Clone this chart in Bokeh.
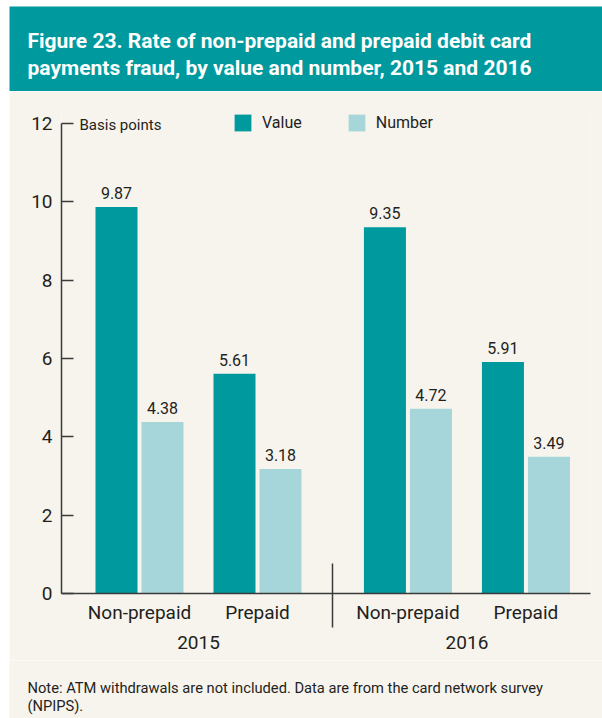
from bokeh.plotting import figure
from bokeh.models import (ColumnDataSource, Range1d, LinearAxis, FixedTicker, Label,
                          LabelSet, Legend, LegendItem, Spacer)
from bokeh.core.properties import value
from bokeh.layouts import column, row
from bokeh.embed import file_html
from bokeh.resources import INLINE

# ---------------- data ----------------
title_lines = ["Figure 23. Rate of non-prepaid and prepaid debit card",
               "payments fraud, by value and number, 2015 and 2016"]
years = ["2015", "2016"]
categories = ["Non-prepaid", "Prepaid"]
series_names = ["Value", "Number"]
value_rates = [9.87, 5.61, 9.35, 5.91]
number_rates = [4.38, 3.18, 4.72, 3.49]
y_ticks = [0, 2, 4, 6, 8, 10, 12]
y_unit_label = "Basis points"
note_lines = ["Note: ATM withdrawals are not included. Data are from the card network survey",
              "(NPIPS)."]

# ---------------- style ----------------
TEAL = "#00999E"
LIGHT = "#A7D6DA"
BG = "#F7F4EE"
INK = "#231F20"
AXIS = "#3A3A3A"
FONT = "Roboto"

YEAR_GAP = 0.275
DODGE = 0.195
BAR_W = 0.356

ncat = len(categories)
centers = []
for i, _y in enumerate(years):
    for j, _c in enumerate(categories):
        centers.append(i * (ncat + YEAR_GAP) + j)
year_centers = [sum(centers[i * ncat:(i + 1) * ncat]) / ncat for i in range(len(years))]
separators = [(centers[i * ncat - 1] + centers[i * ncat]) / 2 for i in range(1, len(years))]

src = ColumnDataSource(dict(
    xv=[c - DODGE for c in centers],
    xn=[c + DODGE for c in centers],
    value=value_rates,
    number=number_rates,
    vlab=[f"{v:.2f}" for v in value_rates],
    nlab=[f"{v:.2f}" for v in number_rates],
))


def blank(h, top=0, fill=BG, border=BG):
    f = figure(width=593, height=h, x_range=Range1d(0, 1), y_range=Range1d(0, 1),
               output_backend="svg", toolbar_location=None,
               x_axis_type=None, y_axis_type=None,
               min_border_left=0, min_border_right=0,
               min_border_top=top, min_border_bottom=0,
               background_fill_color=fill, border_fill_color=border,
               outline_line_color=None)
    f.frame_align = False
    return f


# ---------------- header ----------------
header = blank(91, top=6, fill=TEAL, border="white")
for line, yy in zip(title_lines, (51, 24)):
    header.add_layout(Label(x=18, y=yy, x_units="screen", y_units="screen",
                            text=line, text_font=FONT, text_font_size="21px",
                            text_font_style="bold", text_color="white",
                            text_baseline="alphabetic"))

# ---------------- chart ----------------
p = figure(width=593, height=569,
           x_range=Range1d(-0.661, 3.822), y_range=Range1d(0, 12.46),
           output_backend="svg", toolbar_location=None,
           x_axis_type=None, y_axis_type=None,
           min_border_left=52, min_border_right=12,
           min_border_top=14, min_border_bottom=67,
           background_fill_color=BG, border_fill_color=BG,
           outline_line_color=None)
p.frame_align = False

yaxis = LinearAxis(ticker=FixedTicker(ticks=y_ticks), bounds=(y_ticks[0], y_ticks[-1]),
                   axis_line_color=AXIS, axis_line_width=1.5,
                   major_tick_line_color=AXIS, major_tick_line_width=1.5,
                   major_tick_in=12, major_tick_out=0,
                   minor_tick_line_color=None,
                   major_label_standoff=9,
                   major_label_text_font=FONT,
                   major_label_text_font_size="19px",
                   major_label_text_color=INK)
p.add_layout(yaxis, "left")

xaxis = LinearAxis(ticker=FixedTicker(ticks=centers, minor_ticks=separators),
                   major_label_overrides={c: categories[k % ncat] for k, c in enumerate(centers)},
                   axis_line_color=AXIS, axis_line_width=1.5,
                   major_tick_line_color=None, major_tick_in=0, major_tick_out=0,
                   minor_tick_line_color=AXIS, minor_tick_line_width=1.5,
                   minor_tick_in=30, minor_tick_out=34,
                   major_label_standoff=-27,
                   major_label_text_font=FONT,
                   major_label_text_font_size="19px",
                   major_label_text_color=INK)
p.add_layout(xaxis, "below")

yraxis = LinearAxis(ticker=FixedTicker(ticks=year_centers),
                    major_label_overrides={c: years[k] for k, c in enumerate(year_centers)},
                    axis_line_color=None,
                    major_tick_line_color=None, major_tick_in=0, major_tick_out=0,
                    minor_tick_line_color=None,
                    major_label_standoff=9,
                    major_label_text_font=FONT,
                    major_label_text_font_size="19px",
                    major_label_text_color=INK)
p.add_layout(yraxis, "below")

rv = p.vbar(x="xv", top="value", width=BAR_W, source=src,
            fill_color=TEAL, line_color=None)
rn = p.vbar(x="xn", top="number", width=BAR_W, source=src,
            fill_color=LIGHT, line_color=None)

for xcol, ycol, tcol in (("xv", "value", "vlab"), ("xn", "number", "nlab")):
    p.add_layout(LabelSet(x=xcol, y=ycol, text=tcol, source=src,
                          y_offset=8, text_align="center", text_baseline="alphabetic",
                          text_font=value(FONT), text_font_size="16px", text_color=INK))

legend = Legend(items=[LegendItem(label=series_names[0], renderers=[rv]),
                       LegendItem(label=series_names[1], renderers=[rn])],
                location=(171, 460), orientation="horizontal",
                glyph_width=21, glyph_height=21, label_height=21,
                label_standoff=9, spacing=44, padding=0, margin=0,
                border_line_color=None, background_fill_alpha=0,
                label_text_font=FONT, label_text_font_size="16px",
                label_text_color=INK, label_text_baseline="middle")
p.add_layout(legend)

p.add_layout(Label(x=18, y=469, x_units="screen", y_units="screen",
                   text=y_unit_label, text_font=FONT, text_font_size="15px",
                   text_color=INK, text_baseline="alphabetic"))

# ---------------- note ----------------
note = blank(58)
for line, yy in zip(note_lines, (31, 13)):
    note.add_layout(Label(x=18, y=yy, x_units="screen", y_units="screen",
                          text=line, text_font=FONT, text_font_size="14.7px",
                          text_color=INK, text_baseline="alphabetic"))

layout = row(Spacer(width=9, height=718), column(header, p, note))

open("out.html", "w").write(file_html(layout, INLINE))
